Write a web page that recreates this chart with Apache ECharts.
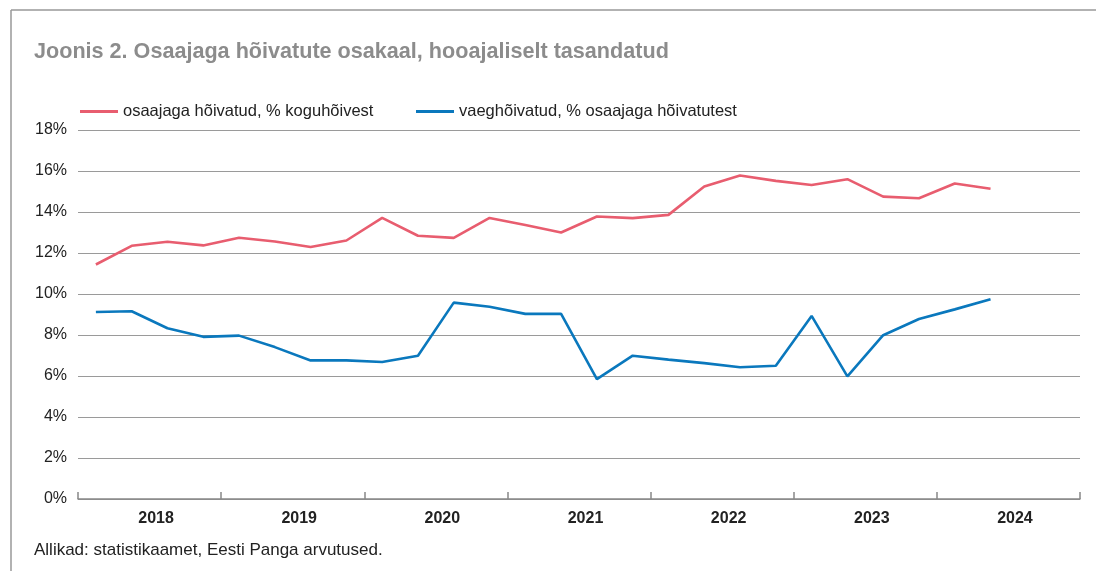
<!DOCTYPE html>
<html>
<head>
<meta charset="utf-8">
<script src="https://cdn.jsdelivr.net/npm/echarts@6/dist/echarts.min.js"></script>
<style>
  html, body { margin: 0; padding: 0; background: #fff; }
  #chart { width: 1096px; height: 571px; }
</style>
</head>
<body>
<div id="chart"></div>
<script>
  // quarters 2018Q1 .. 2024Q4 (last two quarters have no data yet)
  const years = ['2018', '2019', '2020', '2021', '2022', '2023', '2024'];
  const quarters = [];
  years.forEach((y) => { for (let q = 1; q <= 4; q++) quarters.push(y + 'Q' + q); });

  const partTimeShare = [
    11.44, 12.35, 12.55, 12.37, 12.74, 12.56, 12.29, 12.61,
    13.71, 12.84, 12.74, 13.71, 13.37, 13.0, 13.78, 13.70,
    13.86, 15.24, 15.78, 15.52, 15.32, 15.60, 14.75, 14.67,
    15.39, 15.13
  ];
  const underemployed = [
    9.12, 9.16, 8.33, 7.91, 7.97, 7.41, 6.76, 6.76,
    6.68, 6.99, 9.58, 9.38, 9.03, 9.03, 5.85, 6.99,
    6.80, 6.63, 6.43, 6.50, 8.93, 5.98, 7.99, 8.78,
    9.25, 9.74
  ];

  const seriesNames = ['osaajaga hõivatud, % koguhõivest', 'vaeghõivatud, % osaajaga hõivatutest'];
  const colors = ['#e85d6f', '#0a78bd'];
  const font = '"Liberation Sans", Arial, Helvetica, sans-serif';

  const gridTop = 130;
  const gridBottom = 72;
  const plotHeight = 571 - gridTop - gridBottom;

  const legendBase = {
    top: 98,
    itemWidth: 38,
    itemHeight: 3,
    itemGap: 5,
    icon: 'rect',
    textStyle: { color: '#222', fontSize: 16.5, fontFamily: font }
  };

  const chart = echarts.init(document.getElementById('chart'));
  chart.setOption({
    backgroundColor: '#fff',
    animation: false,
    textStyle: { fontFamily: font },
    title: {
      text: 'Joonis 2. Osaajaga hõivatute osakaal, hooajaliselt tasandatud',
      left: 29,
      top: 36,
      textStyle: { color: '#8c8c8c', fontSize: 21.6, fontWeight: 'bold', fontFamily: font }
    },
    legend: [
      Object.assign({}, legendBase, { data: [seriesNames[0]], left: 75 }),
      Object.assign({}, legendBase, { data: [seriesNames[1]], left: 411 })
    ],
    grid: { left: 78, right: 16, top: gridTop, bottom: gridBottom },
    xAxis: [
      {
        type: 'category',
        data: quarters,
        boundaryGap: true,
        axisLine: { lineStyle: { color: '#888', width: 1.5 } },
        axisTick: { show: false },
        axisLabel: { show: false },
        splitLine: { show: false }
      },
      {
        // year labels, sitting slightly right of each year's centre
        type: 'category',
        data: years,
        position: 'bottom',
        boundaryGap: true,
        axisLine: { show: false },
        axisTick: { show: false },
        axisLabel: {
          color: '#222',
          fontSize: 16,
          fontWeight: 'bold',
          margin: 12,
          padding: [0, 0, 0, 13],
          fontFamily: font
        }
      },
      {
        // year-boundary ticks, pointing up from the zero line
        type: 'category',
        data: years,
        position: 'top',
        offset: -plotHeight,
        boundaryGap: true,
        axisLine: { show: false },
        axisTick: { show: true, length: 7, lineStyle: { color: '#888', width: 1.5 } },
        axisLabel: { show: false }
      }
    ],
    yAxis: {
      type: 'value',
      min: 0,
      max: 18,
      interval: 2,
      axisLine: { show: false },
      axisTick: { show: false },
      axisLabel: { formatter: '{value}%', color: '#222', fontSize: 16, margin: 11, fontFamily: font },
      splitLine: { lineStyle: { color: '#9a9a9a', width: 1 } }
    },
    series: [
      {
        name: seriesNames[0],
        type: 'line',
        data: partTimeShare,
        symbol: 'none',
        lineStyle: { color: colors[0], width: 2.6 },
        itemStyle: { color: colors[0] }
      },
      {
        name: seriesNames[1],
        type: 'line',
        data: underemployed,
        symbol: 'none',
        lineStyle: { color: colors[1], width: 2.6 },
        itemStyle: { color: colors[1] }
      }
    ],
    graphic: [
      {
        type: 'line',
        shape: { x1: 11, y1: 10, x2: 1096, y2: 10 },
        style: { stroke: '#999', lineWidth: 1.5 }
      },
      {
        type: 'line',
        shape: { x1: 11, y1: 10, x2: 11, y2: 571 },
        style: { stroke: '#999', lineWidth: 1.5 }
      },
      {
        type: 'text',
        left: 34,
        top: 542,
        style: {
          text: 'Allikad: statistikaamet, Eesti Panga arvutused.',
          fill: '#222',
          fontSize: 17,
          fontFamily: font
        }
      }
    ]
  });

  window.addEventListener('resize', () => chart.resize());
</script>
</body>
</html>
